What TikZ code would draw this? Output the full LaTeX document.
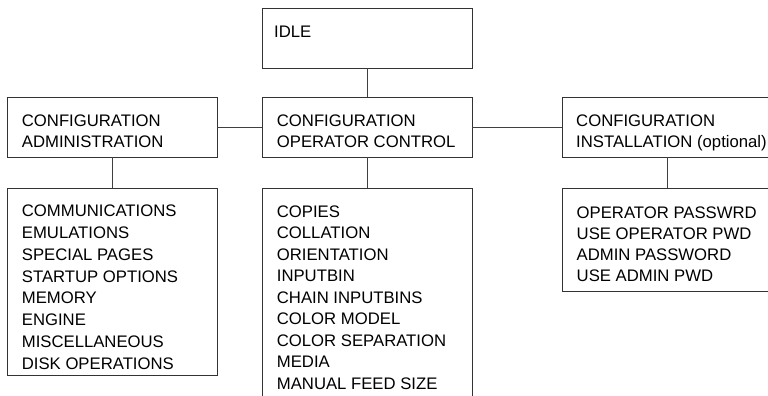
\documentclass[tikz,border=0pt]{standalone}
\usepackage{fontspec}
\setmainfont{Liberation Sans}
\begin{document}
\begin{tikzpicture}[x=1pt,y=-1pt,
  box/.style={draw=black!80,line width=0.8pt,fill=white,rectangle,inner sep=0pt,outer sep=0pt,anchor=north west},
  lbl/.style={anchor=base west,inner sep=0pt,font=\fontsize{16.7}{20}\selectfont,text=black},
  conn/.style={draw=black!75,line width=0.8pt}]
\useasboundingbox (0,0) rectangle (768,396);
\clip (0,0) rectangle (768,396);
% boxes
\node[box,minimum width=210pt,minimum height=59.5pt] (idle) at (262,8.7) {};
\node[box,minimum width=210pt,minimum height=60pt] (cadm) at (7,97) {};
\node[box,minimum width=210pt,minimum height=60pt] (cop) at (262,97) {};
\node[box,minimum width=210pt,minimum height=60pt] (cins) at (562,97) {};
\node[box,minimum width=210pt,minimum height=187pt] (ladm) at (7,188) {};
\node[box,minimum width=210pt,minimum height=230pt] (lop) at (262,188) {};
\node[box,minimum width=210pt,minimum height=103.5pt] (lins) at (562,188) {};
% connectors
\draw[conn] (idle.south) -- (cop.north);
\draw[conn] (cadm.east) -- (cop.west);
\draw[conn] (cop.east) -- (cins.west);
\draw[conn] (cadm.south) -- (ladm.north);
\draw[conn] (cop.south) -- (lop.north);
\draw[conn] (cins.south) -- (lins.north);
% texts
\node[lbl] (tidle) at (274,37.7) {IDLE};
\node[lbl] (ha1) at (21.7,126.7) {CONFIGURATION};
\node[lbl] (ha2) at (21.7,147.4) {ADMINISTRATION};
\node[lbl] (ho1) at (276.7,126.7) {CONFIGURATION};
\node[lbl] (ho2) at (276.7,147.4) {OPERATOR CONTROL};
\node[lbl] (hi1) at (576,126.7) {CONFIGURATION};
\node[lbl] (hi2) at (576,147.4) {INSTALLATION (optional)};
\foreach \t [count=\i] in {COMMUNICATIONS,EMULATIONS,SPECIAL PAGES,STARTUP OPTIONS,MEMORY,ENGINE,MISCELLANEOUS,DISK OPERATIONS}
  \node[lbl] (la\i) at (21.7,{216.7+(\i-1)*21.8}) {\t};
\foreach \t [count=\i] in {COPIES,COLLATION,ORIENTATION,INPUTBIN,CHAIN INPUTBINS,COLOR MODEL,COLOR SEPARATION,MEDIA,MANUAL FEED SIZE}
  \node[lbl] (lo\i) at (276.7,{217.3+(\i-1)*21.5}) {\t};
\foreach \t [count=\i] in {OPERATOR PASSWRD,USE OPERATOR PWD,ADMIN PASSWORD,USE ADMIN PWD}
  \node[lbl] (li\i) at (576.5,{218+(\i-1)*21.2}) {\t};
\end{tikzpicture}
\end{document}
